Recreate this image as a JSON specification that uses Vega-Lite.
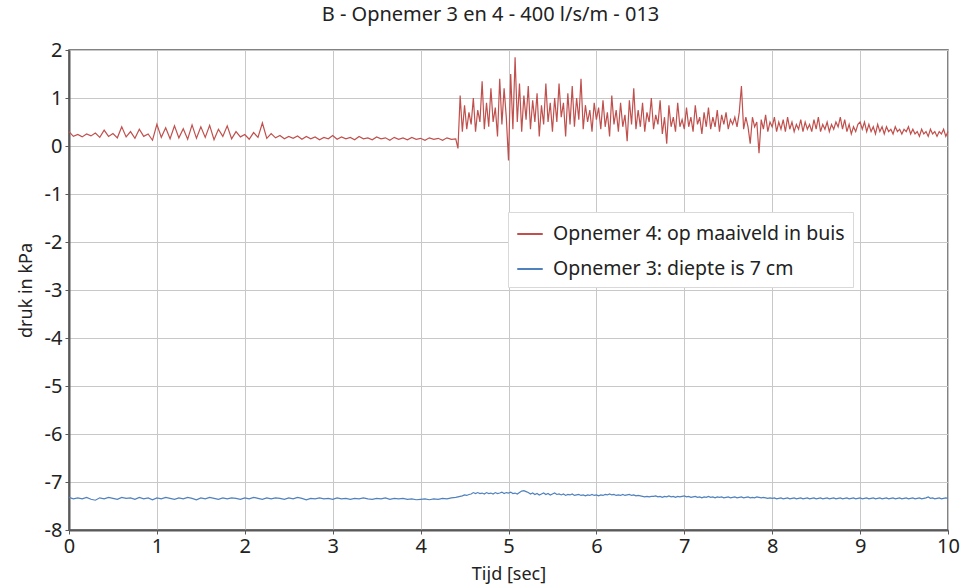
{
 "$schema": "https://vega.github.io/schema/vega-lite/v6.json",
 "width": 879, "height": 480,
 "autosize": {"type": "none"},
 "padding": {"left": 69, "top": 50, "right": 22, "bottom": 55},
 "background": "white",
 "title": {"text": "B - Opnemer 3 en 4 - 400 l/s/m - 013", "fontSize": 20, "font": "Noto Sans", "fontWeight": "normal", "color": "#222222", "offset": 15, "dx": -18},
 "config": {"view": {"stroke": "#595959", "strokeWidth": 1.5}, "font": "Noto Sans"},
 "data": {"values": [
{"t":0,"a":0.3,"b":-7.32},{"t":0.05,"a":0.2,"b":-7.35},{"t":0.1,"a":0.24,"b":-7.33},{"t":0.15,"a":0.19,"b":-7.35},{"t":0.2,"a":0.25,"b":-7.32},{"t":0.25,"a":0.21,"b":-7.36},{"t":0.3,"a":0.27,"b":-7.38},{"t":0.35,"a":0.18,"b":-7.33},{"t":0.4,"a":0.33,"b":-7.35},{"t":0.45,"a":0.2,"b":-7.32},
{"t":0.5,"a":0.26,"b":-7.34},{"t":0.55,"a":0.17,"b":-7.36},{"t":0.6,"a":0.4,"b":-7.32},{"t":0.65,"a":0.19,"b":-7.34},{"t":0.7,"a":0.3,"b":-7.33},{"t":0.75,"a":0.16,"b":-7.36},{"t":0.8,"a":0.35,"b":-7.32},{"t":0.85,"a":0.2,"b":-7.35},{"t":0.9,"a":0.25,"b":-7.33},{"t":0.95,"a":0.12,"b":-7.37},
{"t":1.0,"a":0.45,"b":-7.33},{"t":1.05,"a":0.18,"b":-7.35},{"t":1.1,"a":0.38,"b":-7.32},{"t":1.15,"a":0.15,"b":-7.34},{"t":1.2,"a":0.42,"b":-7.36},{"t":1.25,"a":0.17,"b":-7.33},{"t":1.3,"a":0.36,"b":-7.35},{"t":1.35,"a":0.14,"b":-7.32},{"t":1.4,"a":0.44,"b":-7.34},{"t":1.45,"a":0.16,"b":-7.37},
{"t":1.5,"a":0.4,"b":-7.33},{"t":1.55,"a":0.18,"b":-7.35},{"t":1.6,"a":0.43,"b":-7.32},{"t":1.65,"a":0.13,"b":-7.34},{"t":1.7,"a":0.35,"b":-7.36},{"t":1.75,"a":0.2,"b":-7.33},{"t":1.8,"a":0.42,"b":-7.35},{"t":1.85,"a":0.15,"b":-7.33},{"t":1.9,"a":0.3,"b":-7.34},{"t":1.95,"a":0.19,"b":-7.36},
{"t":2.0,"a":0.24,"b":-7.33},{"t":2.05,"a":0.14,"b":-7.35},{"t":2.1,"a":0.28,"b":-7.32},{"t":2.15,"a":0.18,"b":-7.34},{"t":2.2,"a":0.48,"b":-7.36},{"t":2.25,"a":0.16,"b":-7.33},{"t":2.3,"a":0.26,"b":-7.35},{"t":2.35,"a":0.17,"b":-7.33},{"t":2.4,"a":0.22,"b":-7.34},{"t":2.45,"a":0.15,"b":-7.36},
{"t":2.5,"a":0.2,"b":-7.33},{"t":2.55,"a":0.16,"b":-7.35},{"t":2.6,"a":0.21,"b":-7.32},{"t":2.65,"a":0.14,"b":-7.34},{"t":2.7,"a":0.2,"b":-7.37},{"t":2.75,"a":0.15,"b":-7.34},{"t":2.8,"a":0.19,"b":-7.35},{"t":2.85,"a":0.13,"b":-7.33},{"t":2.9,"a":0.18,"b":-7.35},{"t":2.95,"a":0.15,"b":-7.34},
{"t":3.0,"a":0.22,"b":-7.36},{"t":3.05,"a":0.14,"b":-7.33},{"t":3.1,"a":0.19,"b":-7.35},{"t":3.15,"a":0.15,"b":-7.34},{"t":3.2,"a":0.18,"b":-7.36},{"t":3.25,"a":0.13,"b":-7.34},{"t":3.3,"a":0.2,"b":-7.35},{"t":3.35,"a":0.15,"b":-7.33},{"t":3.4,"a":0.17,"b":-7.35},{"t":3.45,"a":0.13,"b":-7.36},
{"t":3.5,"a":0.19,"b":-7.34},{"t":3.55,"a":0.15,"b":-7.35},{"t":3.6,"a":0.17,"b":-7.33},{"t":3.65,"a":0.12,"b":-7.36},{"t":3.7,"a":0.18,"b":-7.34},{"t":3.75,"a":0.14,"b":-7.35},{"t":3.8,"a":0.17,"b":-7.34},{"t":3.85,"a":0.13,"b":-7.36},{"t":3.9,"a":0.18,"b":-7.35},{"t":3.95,"a":0.14,"b":-7.37},
{"t":4.0,"a":0.16,"b":-7.36},{"t":4.05,"a":0.12,"b":-7.35},{"t":4.1,"a":0.17,"b":-7.37},{"t":4.15,"a":0.14,"b":-7.35},{"t":4.2,"a":0.16,"b":-7.36},{"t":4.25,"a":0.12,"b":-7.34},{"t":4.3,"a":0.17,"b":-7.35},{"t":4.35,"a":0.14,"b":-7.33},{"t":4.4,"a":0.15,"b":-7.32},
{"t":4.425,"a":-0.05,"b":-7.31},{"t":4.45,"a":1.05,"b":-7.3},{"t":4.475,"a":0.3,"b":-7.29},{"t":4.5,"a":0.85,"b":-7.27},{"t":4.525,"a":0.35,"b":-7.28},{"t":4.55,"a":0.7,"b":-7.26},{"t":4.575,"a":0.45,"b":-7.25},{"t":4.6,"a":1.0,"b":-7.22},{"t":4.625,"a":0.3,"b":-7.24},{"t":4.65,"a":0.75,"b":-7.22},
{"t":4.675,"a":0.5,"b":-7.24},{"t":4.7,"a":1.35,"b":-7.23},{"t":4.725,"a":0.35,"b":-7.25},{"t":4.75,"a":0.9,"b":-7.22},{"t":4.775,"a":0.4,"b":-7.24},{"t":4.8,"a":1.2,"b":-7.23},{"t":4.825,"a":0.5,"b":-7.25},{"t":4.85,"a":0.8,"b":-7.22},{"t":4.875,"a":0.2,"b":-7.24},{"t":4.9,"a":1.4,"b":-7.23},
{"t":4.925,"a":0.45,"b":-7.21},{"t":4.95,"a":1.2,"b":-7.24},{"t":4.975,"a":0.6,"b":-7.22},{"t":5.0,"a":-0.3,"b":-7.23},{"t":5.025,"a":1.5,"b":-7.21},{"t":5.05,"a":0.35,"b":-7.24},{"t":5.075,"a":1.85,"b":-7.23},{"t":5.1,"a":0.5,"b":-7.25},{"t":5.125,"a":1.3,"b":-7.22},{"t":5.15,"a":0.3,"b":-7.19},
{"t":5.175,"a":1.05,"b":-7.18},{"t":5.2,"a":0.55,"b":-7.2},{"t":5.225,"a":1.25,"b":-7.22},{"t":5.25,"a":0.35,"b":-7.25},{"t":5.275,"a":0.95,"b":-7.23},{"t":5.3,"a":0.5,"b":-7.26},{"t":5.325,"a":1.1,"b":-7.24},{"t":5.35,"a":0.2,"b":-7.27},{"t":5.375,"a":0.85,"b":-7.25},{"t":5.4,"a":0.45,"b":-7.23},
{"t":5.425,"a":1.3,"b":-7.26},{"t":5.45,"a":0.5,"b":-7.24},{"t":5.475,"a":0.9,"b":-7.27},{"t":5.5,"a":0.3,"b":-7.25},{"t":5.525,"a":1.0,"b":-7.23},{"t":5.55,"a":0.5,"b":-7.26},{"t":5.575,"a":1.3,"b":-7.25},{"t":5.6,"a":0.6,"b":-7.27},{"t":5.625,"a":0.9,"b":-7.25},{"t":5.65,"a":0.2,"b":-7.28},
{"t":5.675,"a":1.1,"b":-7.26},{"t":5.7,"a":0.45,"b":-7.27},{"t":5.725,"a":1.25,"b":-7.25},{"t":5.75,"a":0.4,"b":-7.28},{"t":5.775,"a":1.0,"b":-7.27},{"t":5.8,"a":0.55,"b":-7.26},{"t":5.825,"a":1.4,"b":-7.28},{"t":5.85,"a":0.35,"b":-7.27},{"t":5.875,"a":0.85,"b":-7.29},{"t":5.9,"a":0.5,"b":-7.27},
{"t":5.925,"a":0.75,"b":-7.28},{"t":5.95,"a":0.3,"b":-7.26},{"t":5.975,"a":0.9,"b":-7.28},{"t":6.0,"a":0.55,"b":-7.27},{"t":6.025,"a":0.8,"b":-7.29},{"t":6.05,"a":0.35,"b":-7.27},{"t":6.075,"a":0.95,"b":-7.28},{"t":6.1,"a":0.4,"b":-7.26},{"t":6.125,"a":0.7,"b":-7.27},{"t":6.15,"a":0.2,"b":-7.25},
{"t":6.175,"a":1.05,"b":-7.27},{"t":6.2,"a":0.45,"b":-7.26},{"t":6.225,"a":0.75,"b":-7.28},{"t":6.25,"a":0.3,"b":-7.27},{"t":6.275,"a":0.9,"b":-7.28},{"t":6.3,"a":0.4,"b":-7.26},{"t":6.325,"a":0.65,"b":-7.28},{"t":6.35,"a":0.1,"b":-7.27},{"t":6.375,"a":0.95,"b":-7.26},{"t":6.4,"a":0.45,"b":-7.28},
{"t":6.425,"a":1.2,"b":-7.27},{"t":6.45,"a":0.35,"b":-7.29},{"t":6.475,"a":0.75,"b":-7.28},{"t":6.5,"a":0.4,"b":-7.29},{"t":6.525,"a":0.9,"b":-7.3},{"t":6.55,"a":0.3,"b":-7.31},{"t":6.575,"a":0.7,"b":-7.3},{"t":6.6,"a":0.5,"b":-7.31},{"t":6.625,"a":1.0,"b":-7.3},{"t":6.65,"a":0.35,"b":-7.3},
{"t":6.675,"a":0.65,"b":-7.29},{"t":6.7,"a":0.45,"b":-7.31},{"t":6.725,"a":0.95,"b":-7.3},{"t":6.75,"a":0.25,"b":-7.32},{"t":6.775,"a":0.6,"b":-7.3},{"t":6.8,"a":0.05,"b":-7.31},{"t":6.825,"a":0.85,"b":-7.29},{"t":6.85,"a":0.4,"b":-7.31},{"t":6.875,"a":0.6,"b":-7.3},{"t":6.9,"a":0.3,"b":-7.32},
{"t":6.925,"a":0.9,"b":-7.3},{"t":6.95,"a":0.4,"b":-7.31},{"t":6.975,"a":0.55,"b":-7.3},{"t":7.0,"a":0.35,"b":-7.29},{"t":7.025,"a":0.8,"b":-7.31},{"t":7.05,"a":0.4,"b":-7.3},{"t":7.075,"a":0.6,"b":-7.32},{"t":7.1,"a":0.3,"b":-7.31},{"t":7.125,"a":0.85,"b":-7.3},{"t":7.15,"a":0.45,"b":-7.32},
{"t":7.175,"a":0.6,"b":-7.31},{"t":7.2,"a":0.25,"b":-7.33},{"t":7.225,"a":0.7,"b":-7.31},{"t":7.25,"a":0.4,"b":-7.32},{"t":7.275,"a":0.8,"b":-7.3},{"t":7.3,"a":0.35,"b":-7.32},{"t":7.325,"a":0.6,"b":-7.31},{"t":7.35,"a":0.4,"b":-7.33},{"t":7.375,"a":0.75,"b":-7.31},{"t":7.4,"a":0.3,"b":-7.32},
{"t":7.425,"a":0.65,"b":-7.31},{"t":7.45,"a":0.45,"b":-7.33},{"t":7.475,"a":0.7,"b":-7.32},{"t":7.5,"a":0.35,"b":-7.31},{"t":7.525,"a":0.55,"b":-7.33},{"t":7.55,"a":0.45,"b":-7.32},{"t":7.575,"a":0.6,"b":-7.31},{"t":7.6,"a":0.4,"b":-7.33},{"t":7.625,"a":0.7,"b":-7.32},{"t":7.65,"a":1.25,"b":-7.31},
{"t":7.675,"a":0.35,"b":-7.33},{"t":7.7,"a":0.6,"b":-7.32},{"t":7.725,"a":0.4,"b":-7.31},{"t":7.75,"a":0.05,"b":-7.33},{"t":7.775,"a":0.6,"b":-7.32},{"t":7.8,"a":0.4,"b":-7.33},{"t":7.825,"a":0.5,"b":-7.31},{"t":7.85,"a":-0.15,"b":-7.32},{"t":7.875,"a":0.55,"b":-7.33},{"t":7.9,"a":0.35,"b":-7.32},
{"t":7.925,"a":0.65,"b":-7.33},{"t":7.95,"a":0.3,"b":-7.34},{"t":7.975,"a":0.5,"b":-7.33},{"t":8.0,"a":0.4,"b":-7.34},{"t":8.025,"a":0.6,"b":-7.33},{"t":8.05,"a":0.3,"b":-7.35},{"t":8.075,"a":0.5,"b":-7.34},{"t":8.1,"a":0.35,"b":-7.33},{"t":8.125,"a":0.55,"b":-7.35},{"t":8.15,"a":0.3,"b":-7.34},
{"t":8.175,"a":0.6,"b":-7.33},{"t":8.2,"a":0.35,"b":-7.35},{"t":8.225,"a":0.5,"b":-7.34},{"t":8.25,"a":0.3,"b":-7.33},{"t":8.275,"a":0.45,"b":-7.35},{"t":8.3,"a":0.35,"b":-7.34},{"t":8.325,"a":0.55,"b":-7.33},{"t":8.35,"a":0.3,"b":-7.35},{"t":8.375,"a":0.5,"b":-7.34},{"t":8.4,"a":0.35,"b":-7.33},
{"t":8.425,"a":0.45,"b":-7.35},{"t":8.45,"a":0.3,"b":-7.34},{"t":8.475,"a":0.55,"b":-7.33},{"t":8.5,"a":0.35,"b":-7.35},{"t":8.525,"a":0.6,"b":-7.34},{"t":8.55,"a":0.3,"b":-7.33},{"t":8.575,"a":0.45,"b":-7.35},{"t":8.6,"a":0.35,"b":-7.34},{"t":8.625,"a":0.5,"b":-7.33},{"t":8.65,"a":0.3,"b":-7.35},
{"t":8.675,"a":0.45,"b":-7.34},{"t":8.7,"a":0.35,"b":-7.33},{"t":8.725,"a":0.5,"b":-7.35},{"t":8.75,"a":0.4,"b":-7.34},{"t":8.775,"a":0.6,"b":-7.33},{"t":8.8,"a":0.35,"b":-7.35},{"t":8.825,"a":0.55,"b":-7.34},{"t":8.85,"a":0.3,"b":-7.33},{"t":8.875,"a":0.45,"b":-7.35},{"t":8.9,"a":0.25,"b":-7.34},
{"t":8.925,"a":0.4,"b":-7.33},{"t":8.95,"a":0.3,"b":-7.35},{"t":8.975,"a":0.45,"b":-7.34},{"t":9.0,"a":0.5,"b":-7.33},{"t":9.025,"a":0.35,"b":-7.35},{"t":9.05,"a":0.5,"b":-7.34},{"t":9.075,"a":0.3,"b":-7.33},{"t":9.1,"a":0.45,"b":-7.35},{"t":9.125,"a":0.3,"b":-7.34},{"t":9.15,"a":0.4,"b":-7.33},
{"t":9.175,"a":0.25,"b":-7.35},{"t":9.2,"a":0.45,"b":-7.34},{"t":9.225,"a":0.3,"b":-7.33},{"t":9.25,"a":0.4,"b":-7.35},{"t":9.275,"a":0.25,"b":-7.34},{"t":9.3,"a":0.4,"b":-7.33},{"t":9.325,"a":0.3,"b":-7.35},{"t":9.35,"a":0.35,"b":-7.34},{"t":9.375,"a":0.25,"b":-7.33},{"t":9.4,"a":0.4,"b":-7.35},
{"t":9.425,"a":0.3,"b":-7.34},{"t":9.45,"a":0.35,"b":-7.33},{"t":9.475,"a":0.25,"b":-7.35},{"t":9.5,"a":0.35,"b":-7.34},{"t":9.525,"a":0.3,"b":-7.33},{"t":9.55,"a":0.4,"b":-7.35},{"t":9.575,"a":0.25,"b":-7.34},{"t":9.6,"a":0.35,"b":-7.33},{"t":9.625,"a":0.25,"b":-7.35},{"t":9.65,"a":0.3,"b":-7.34},
{"t":9.675,"a":0.2,"b":-7.33},{"t":9.7,"a":0.35,"b":-7.35},{"t":9.725,"a":0.25,"b":-7.34},{"t":9.75,"a":0.3,"b":-7.33},{"t":9.775,"a":0.2,"b":-7.31},{"t":9.8,"a":0.35,"b":-7.34},{"t":9.825,"a":0.25,"b":-7.33},{"t":9.85,"a":0.3,"b":-7.35},{"t":9.875,"a":0.2,"b":-7.34},{"t":9.9,"a":0.3,"b":-7.33},
{"t":9.925,"a":0.25,"b":-7.35},{"t":9.95,"a":0.35,"b":-7.34},{"t":9.975,"a":0.2,"b":-7.33},{"t":10.0,"a":0.3,"b":-7.34}
 ]},
 "transform": [{"fold": ["a", "b"], "as": ["serie", "druk"]}],
 "mark": {"type": "line", "strokeWidth": 1.2},
 "encoding": {
  "x": {"field": "t", "type": "quantitative", "scale": {"domain": [0, 10], "nice": false},
   "axis": {"title": "Tijd [sec]", "values": [0,1,2,3,4,5,6,7,8,9,10], "grid": true, "gridColor": "#c8c8c8", "domainColor": "#595959", "domainWidth": 2, "tickColor": "#595959", "tickSize": 4, "labelFontSize": 20, "titleFontSize": 18, "titleFontWeight": "normal", "labelColor": "#222222", "titleColor": "#222222", "labelPadding": 2, "titlePadding": 9, "labelFlush": false}},
  "y": {"field": "druk", "type": "quantitative", "scale": {"domain": [-8, 2], "nice": false},
   "axis": {"title": "druk in kPa", "values": [-8,-7,-6,-5,-4,-3,-2,-1,0,1,2], "labelExpr": "toString(datum.value)", "grid": true, "gridColor": "#c8c8c8", "domainColor": "#595959", "domainWidth": 2, "tickColor": "#595959", "tickSize": 4, "labelFontSize": 20, "titleFontSize": 18, "titleFontWeight": "normal", "labelColor": "#222222", "titleColor": "#222222", "labelPadding": 3, "titlePadding": 9}},
  "color": {"field": "serie", "type": "nominal", "scale": {"domain": ["a", "b"], "range": ["#c0504d", "#4f81bd"]},
   "legend": {"title": null, "orient": "none", "legendX": 439, "legendY": 162, "labelExpr": "datum.label == 'a' ? 'Opnemer 4: op maaiveld in buis' : 'Opnemer 3: diepte is 7 cm'", "labelLimit": 500, "symbolType": "stroke", "symbolSize": 650, "symbolStrokeWidth": 2, "labelFontSize": 19.5, "labelColor": "#222222", "fillColor": "white", "strokeColor": "#d9d9d9", "padding": 8, "rowPadding": 11, "labelOffset": 9}}
 }
}
